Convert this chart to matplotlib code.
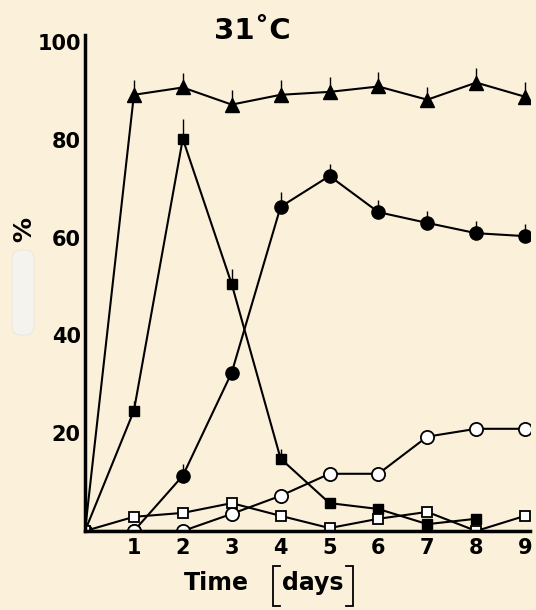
import matplotlib
matplotlib.use("Agg")
import matplotlib.pyplot as plt
from matplotlib.patches import FancyBboxPatch
from matplotlib.lines import Line2D

plt.rcParams['font.family'] = ['DejaVu Sans']

days = [0, 1, 2, 3, 4, 5, 6, 7, 8, 9]
tri_filled = [0, 89.2, 90.7, 87.2, 89.2, 89.8, 90.9, 88.2, 91.7, 88.8]
tri_err = [0, 3, 3, 3, 3, 3, 3, 2.5, 3, 3]
sq_filled_days = [0, 1, 2, 3, 4, 5, 6, 7, 8]
sq_filled = [0, 24.6, 80.2, 50.5, 14.8, 5.7, 4.5, 1.4, 2.5]
sq_err = [0, 2, 4, 3, 2, 0, 0, 0, 0]
circ_filled = [0, 0, 11.3, 32.4, 66.3, 72.6, 65.2, 63.0, 60.9, 60.3]
circ_err = [0, 0, 2.5, 0, 3, 2.5, 2.5, 2.5, 2.5, 2.5]
circ_open = [0, 0, 0, 3.5, 7.2, 11.7, 11.7, 19.3, 20.9, 20.9]
sq_open = [0, 2.9, 3.7, 5.7, 3.1, 0.6, 2.5, 3.9, 0, 3.1]

x_ticks = [1, 2, 3, 4, 5, 6, 7, 8, 9]
y_ticks = [20, 40, 60, 80, 100]

W, H = 536, 610
bg = '#FBF1DA'
fig = plt.figure(figsize=(W / 100, H / 100), dpi=100, facecolor=bg)
ax = fig.add_axes([85 / W, 1 - 531 / H, 445 / W, (531 - 42) / H])
ax.set_facecolor('none')

lw = 1.5
ax.errorbar(days, tri_filled, yerr=[[0] * len(tri_err), tri_err], fmt='-', color='black',
            lw=lw, marker='^', ms=10, mfc='black', mec='black', elinewidth=1, capsize=0, zorder=3)
ax.errorbar(sq_filled_days, sq_filled, yerr=[[0] * len(sq_err), sq_err], fmt='-', color='black',
            lw=lw, marker='s', ms=7.5, mfc='black', mec='black', elinewidth=1, capsize=0, zorder=3)
ax.errorbar(days, circ_filled, yerr=[[0] * len(circ_err), circ_err], fmt='-', color='black',
            lw=lw, marker='o', ms=9.5, mfc='black', mec='black', elinewidth=1, capsize=0, zorder=3)
ax.plot(days, circ_open, '-', color='black', lw=lw, marker='o', ms=9.5, mfc='white',
        mec='black', mew=1.3, zorder=4)
ax.plot(days, sq_open, '-', color='black', lw=lw, marker='s', ms=7.5, mfc='white',
        mec='black', mew=1.3, zorder=5)

ax.set_xlim(0, 9.1)
ax.set_ylim(0, 100)
ax.set_xticks(x_ticks)
ax.set_yticks(y_ticks)
ax.set_xticklabels([str(v) for v in x_ticks], fontsize=15, fontweight='bold')
ax.set_yticklabels([str(v) for v in y_ticks], fontsize=15, fontweight='bold')
ax.tick_params(axis='y', length=0, pad=3)
ax.tick_params(axis='x', length=0, pad=5)
for s in ['top', 'right']:
    ax.spines[s].set_visible(False)
ax.spines['left'].set_linewidth(2.5)
ax.spines['bottom'].set_linewidth(2.5)
ax.spines['left'].set_bounds(0, 101.5)
for s in ['left', 'bottom']:
    ax.spines[s].set_zorder(6)
    ax.spines[s].set_clip_on(False)

fig.text(252 / W, 1 - 31 / H, '31˚C', ha='center', va='center', fontsize=21, fontweight='bold')
fig.text(24 / W, 1 - 230 / H, '%', ha='center', va='center', fontsize=18, fontweight='bold', rotation=90)

# x-axis label with tall thin brackets
fig.text(216 / W, 1 - 583 / H, 'Time', ha='center', va='center', fontsize=17, fontweight='bold')
fig.text(313 / W, 1 - 583 / H, 'days', ha='center', va='center', fontsize=17, fontweight='bold')

def px(x, y):
    return x / W, 1 - y / H

def bracket(x, y0, y1, direction):
    xs = [x + direction * 7, x, x, x + direction * 7]
    ys = [y0, y0, y1, y1]
    pts = [px(a, b) for a, b in zip(xs, ys)]
    fig.add_artist(Line2D([p[0] for p in pts], [p[1] for p in pts], color='black',
                          lw=1.3, transform=fig.transFigure, solid_joinstyle='miter'))

bracket(273, 566, 606, 1)
bracket(353, 566, 606, -1)

# faint scan blemish left of the axis
blob = FancyBboxPatch((12 / W, 1 - 335 / H), 22 / W, 85 / H,
                      boxstyle='round,pad=0,rounding_size=0.015', transform=fig.transFigure,
                      facecolor='#F5F3EE', edgecolor='#E8E5DC', lw=0.6, zorder=0)
fig.patches.append(blob)

fig.savefig('out.png', dpi=100, facecolor=bg)
